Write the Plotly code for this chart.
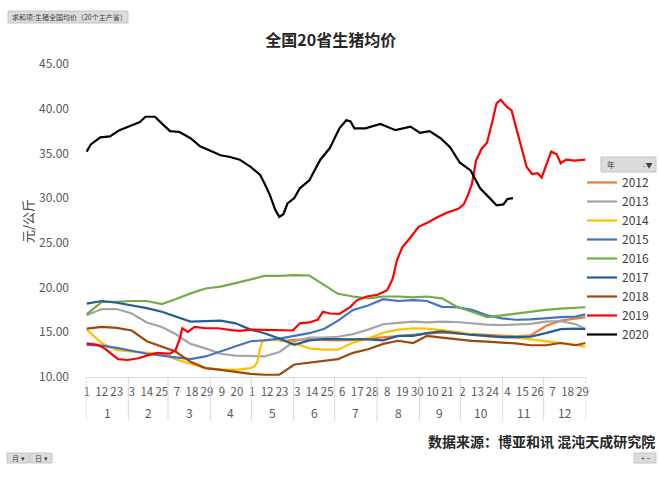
import plotly.graph_objects as go

# ---------------- data ----------------
# day-of-year index (0 = Jan 1, leap-year calendar, 366 categories)
DAYS = [0, 11, 22, 33, 44, 55, 65, 76, 87, 98, 109, 120, 130, 141, 152, 163, 174,
        184, 195, 206, 217, 228, 239, 249, 260, 271, 282, 293, 304, 314, 325, 336,
        347, 358, 365]

DAYS_2012 = DAYS[13:]
P2012 = [14.0, 14.15, 14.2, 14.15, 14.1, 14.15, 14.3, 14.4, 14.6, 14.75, 14.85,
         14.95, 14.9, 14.8, 14.7, 14.6, 14.55, 14.65, 15.7, 16.3, 16.55, 16.7]

P2013 = [16.9, 17.6, 17.6, 17.1, 16.1, 15.6, 14.8, 13.7, 13.2, 12.6, 12.4, 12.35,
         12.3, 12.8, 14.0, 14.4, 14.4, 14.5, 14.8, 15.3, 15.9, 16.05, 16.2, 16.1,
         16.2, 16.15, 16.0, 15.85, 15.8, 15.85, 15.95, 16.2, 16.25, 15.9, 15.4]

DAYS_2014 = [0, 11, 22, 33, 44, 55, 65, 76, 87, 98, 109, 120, 123, 125, 127, 129,
             141, 152, 163, 174, 184, 195, 206, 217, 228, 239, 249, 260, 271, 282,
             293, 304, 314, 325, 336, 347, 358, 365]
P2014 = [15.3, 13.8, 13.0, 12.85, 12.7, 12.55, 12.0, 11.45, 11.0, 10.85, 10.8, 11.0,
         11.2, 11.7, 13.25, 14.1, 14.15, 13.8, 13.2, 13.05, 13.05, 13.85, 14.3, 14.95,
         15.3, 15.45, 15.4, 15.2, 15.05, 14.75, 14.55, 14.45, 14.4, 14.2, 14.0, 13.85,
         13.6, 13.4]

P2015 = [13.6, 13.5, 13.25, 12.9, 12.6, 12.4, 12.2, 12.0, 12.3, 12.85, 13.4, 14.0,
         14.1, 14.3, 14.6, 14.9, 15.4, 16.3, 17.5, 18.0, 18.7, 18.5, 18.6, 18.5,
         17.85, 17.8, 17.5, 16.9, 16.55, 16.4, 16.45, 16.6, 16.7, 16.75, 17.0]

P2016 = [17.0, 18.4, 18.4, 18.5, 18.5, 18.15, 18.7, 19.35, 19.9, 20.1, 20.5, 20.9,
         21.3, 21.3, 21.4, 21.35, 20.3, 19.3, 19.0, 18.8, 19.0, 19.0, 18.9, 19.0,
         18.8, 17.85, 17.3, 16.7, 16.9, 17.1, 17.3, 17.5, 17.65, 17.75, 17.8]

P2017 = [18.2, 18.5, 18.3, 18.0, 17.7, 17.3, 16.8, 16.2, 16.25, 16.3, 16.0, 15.3,
         14.9, 14.3, 13.6, 14.1, 14.25, 14.25, 14.25, 14.2, 14.1, 14.6, 14.6, 14.9,
         15.1, 14.9, 14.7, 14.6, 14.45, 14.45, 14.5, 14.9, 15.35, 15.4, 15.35]

P2018 = [15.4, 15.6, 15.5, 15.2, 14.0, 13.4, 12.85, 11.7, 11.0, 10.8, 10.55, 10.35,
         10.25, 10.25, 11.4, 11.6, 11.8, 12.0, 12.7, 13.1, 13.7, 14.05, 13.8, 14.6,
         14.4, 14.2, 14.05, 13.95, 13.85, 13.75, 13.55, 13.55, 13.8, 13.55, 13.8]

DAYS_2019 = [0, 8, 13, 19, 23, 30, 38, 45, 52, 61, 65, 68, 70, 74, 79, 87, 96, 106,
             112, 120, 132, 144, 151, 156, 163, 169, 173, 178, 185, 193, 198, 205,
             213, 220, 224, 227, 231, 237, 243, 250, 257, 264, 272, 276, 279, 282,
             285, 289, 293, 297, 300, 303, 307, 311, 315, 319, 322, 326, 330, 333,
             336, 340, 344, 347, 351, 357, 365]
P2019 = [13.75, 13.6, 13.2, 12.45, 12.0, 11.9, 12.1, 12.45, 12.7, 12.6, 13.0, 14.2,
         15.45, 15.05, 15.6, 15.45, 15.45, 15.25, 15.15, 15.3, 15.25, 15.15, 15.2,
         16.0, 16.1, 16.4, 17.3, 17.1, 17.05, 17.85, 18.6, 19.0, 19.2, 19.7, 21.0,
         23.0, 24.5, 25.6, 26.8, 27.3, 27.9, 28.4, 28.8, 29.3, 30.3, 31.6, 34.2,
         35.5, 36.2, 38.6, 40.6, 41.0, 40.3, 39.8, 37.6, 35.3, 33.5, 32.7, 32.8,
         32.3, 33.6, 35.2, 34.9, 33.9, 34.3, 34.2, 34.3]

DAYS_2020 = [0, 3, 10, 17, 24, 32, 39, 43, 50, 54, 61, 68, 76, 83, 90, 98, 105, 112,
             120, 127, 130, 134, 138, 141, 144, 147, 152, 156, 163, 171, 178, 185,
             190, 193, 196, 204, 215, 222, 226, 237, 244, 251, 259, 266, 273, 281,
             288, 295, 300, 305, 308, 312]
P2020 = [35.2, 36.0, 36.8, 36.9, 37.6, 38.1, 38.5, 39.1, 39.1, 38.5, 37.5, 37.4,
         36.7, 35.8, 35.3, 34.8, 34.6, 34.3, 33.5, 32.6, 31.7, 30.4, 28.7, 27.9,
         28.2, 29.4, 30.0, 31.1, 32.0, 34.3, 35.6, 37.8, 38.7, 38.6, 37.8, 37.8,
         38.3, 37.8, 37.6, 38.0, 37.3, 37.5, 36.7, 35.7, 34.0, 33.1, 31.1, 30.0,
         29.2, 29.3, 29.9, 30.0]

TICK_DAYS = list(range(0, 366, 11))
TICK_LABELS = ['1', '12', '23', '3', '14', '25', '7', '18', '29', '9', '20', '1',
               '12', '23', '3', '14', '25', '6', '17', '28', '8', '19', '30', '10',
               '21', '2', '13', '24', '4', '15', '26', '7', '18', '29']
MONTH_DAYS = [31, 29, 31, 30, 31, 30, 31, 31, 30, 31, 30, 31]
MONTH_LABELS = [str(m) for m in range(1, 13)]
Y_TICKS = [10, 15, 20, 25, 30, 35, 40, 45]

SERIES = [
    ('2012', DAYS_2012, P2012, '#ED7D31'),
    ('2013', DAYS, P2013, '#A5A5A5'),
    ('2014', DAYS_2014, P2014, '#FFC000'),
    ('2015', DAYS, P2015, '#4472C4'),
    ('2016', DAYS, P2016, '#70AD47'),
    ('2017', DAYS, P2017, '#255E91'),
    ('2018', DAYS, P2018, '#9E480E'),
    ('2019', DAYS_2019, P2019, '#FF0000'),
    ('2020', DAYS_2020, P2020, '#000000'),
]

FONT = 'Noto Sans CJK SC, Liberation Sans, sans-serif'
W, H = 659, 478
L, R, T, B = 86, 73, 64, 101
PW, PH = W - L - R, H - T - B


def px_x(p):
    return (p - L) / PW


def px_y(p):
    return (H - B - p) / PH


def note(x, y, text, size, color='#404040', xanchor='center', **kw):
    return dict(xref='paper', yref='paper', x=px_x(x), y=px_y(y), text=text,
                showarrow=False, xanchor=xanchor, yanchor='middle',
                font=dict(size=size, color=color, family=FONT), **kw)


fig = go.Figure()
for name, xs, ys, col in SERIES:
    fig.add_trace(go.Scatter(x=xs, y=ys, name=name, mode='lines',
                             line=dict(color=col, width=2.2)))

shapes = []
annotations = []

# month separators and month labels (second level of category axis)
start = 0
for n, lab in zip(MONTH_DAYS, MONTH_LABELS):
    shapes.append(dict(type='line', xref='x', yref='paper', x0=start - 0.5, x1=start - 0.5,
                       y0=0, y1=px_y(421), line=dict(color='#D9D9D9', width=1)))
    annotations.append(dict(xref='x', yref='paper', x=start + n / 2 - 0.5, y=px_y(412),
                            xanchor='center', yanchor='middle',
                            text=lab, showarrow=False,
                            font=dict(size=12, color='#595959', family=FONT)))
    start += n
shapes.append(dict(type='line', xref='x', yref='paper', x0=start - 0.5, x1=start - 0.5,
                   y0=0, y1=px_y(421), line=dict(color='#D9D9D9', width=1)))

# y-axis title
annotations.append(note(27, 221, '元/公斤', 13, textangle=-90))

# source
annotations.append(note(657, 441, '<b>数据来源：博亚和讯 混沌天成研究院</b>', 14,
                        color='#262626', xanchor='right'))

# pivot-chart field buttons
shapes.append(dict(type='rect', xref='paper', yref='paper', x0=px_x(8), x1=px_x(128),
                   y0=px_y(23), y1=px_y(11), fillcolor='#DCDCDC',
                   line=dict(color='#C4C4C4', width=1)))
annotations.append(note(10, 17, '求和项:生猪全国均价（20个主产省）', 7, xanchor='left'))

shapes.append(dict(type='rect', xref='paper', yref='paper', x0=px_x(601), x1=px_x(656),
                   y0=px_y(172), y1=px_y(157), fillcolor='#DCDCDC',
                   line=dict(color='#C4C4C4', width=1)))
annotations.append(note(605, 164.5, '年', 8, xanchor='left'))
annotations.append(note(654, 164.5, '-▼', 7, xanchor='right'))

for x0, x1, lab in [(7, 29, '月 ▾'), (30, 52, '日 ▾'), (634, 656, '+ −')]:
    shapes.append(dict(type='rect', xref='paper', yref='paper', x0=px_x(x0), x1=px_x(x1),
                       y0=px_y(463), y1=px_y(453), fillcolor='#DCDCDC',
                       line=dict(color='#C4C4C4', width=1)))
    annotations.append(note((x0 + x1) / 2, 458, lab, 7))

fig.update_layout(
    width=W, height=H,
    margin=dict(l=L, r=R, t=T, b=B, autoexpand=False),
    paper_bgcolor='white', plot_bgcolor='white',
    font=dict(family=FONT, size=12, color='#595959'),
    title=dict(text='<b>全国20省生猪均价</b>', x=0.502, xanchor='center', y=1 - 40 / H,
               yanchor='middle', font=dict(size=16, color='#262626', family=FONT)),
    xaxis=dict(range=[-0.5, 365.5], tickmode='array', tickvals=TICK_DAYS, ticktext=TICK_LABELS,
               tickangle=0, ticks='', showgrid=False, zeroline=False, showline=True,
               linecolor='#D9D9D9', linewidth=1, ticklabelstandoff=4,
               tickfont=dict(size=11.5, color='#595959', family=FONT)),
    yaxis=dict(range=[10, 45], tickmode='array', tickvals=Y_TICKS, tickformat='.2f',
               ticks='', showgrid=False, zeroline=False, showline=False,
               ticklabelstandoff=16, tickfont=dict(size=12, color='#595959', family=FONT)),
    legend=dict(x=px_x(582), y=px_y(168), xanchor='left', yanchor='top',
                bgcolor='rgba(0,0,0,0)', itemwidth=30, tracegroupgap=0,
                font=dict(size=12, color='#404040', family=FONT)),
    showlegend=True,
    shapes=shapes, annotations=annotations,
)

fig.write_html('out.html', config={'displayModeBar': False},
               post_script="document.body.style.margin='0';"
                           "document.body.style.overflow='hidden';")
